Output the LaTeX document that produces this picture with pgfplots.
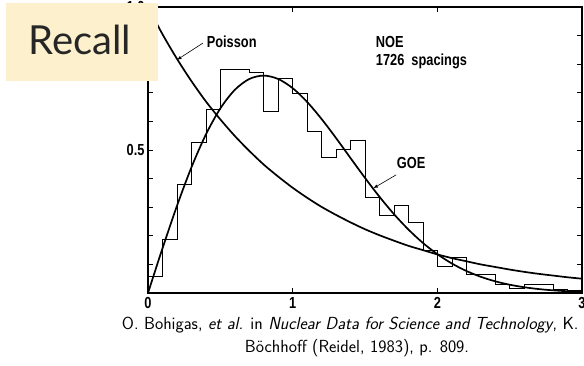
\documentclass[border=0pt]{standalone}
\usepackage{fontspec}
\usepackage{graphicx}
\usepackage{pgfplots}
\pgfplotsset{compat=1.18}
\newfontfamily\chartfont{Liberation Sans}
\newfontfamily\recallfont{Lato}
\definecolor{recallbg}{RGB}{252,241,204}
\newcommand{\lbl}[1]{\scalebox{0.8}[1]{\chartfont\bfseries #1}}
\begin{document}
\begin{tikzpicture}[x=1pt,y=1pt]
\useasboundingbox (0,0) rectangle (584,365);
\begin{axis}[
  at={(148pt,72pt)}, anchor=south west,
  scale only axis, width=434pt, height=286pt,
  xmin=0, xmax=3, ymin=0, ymax=1,
  xtick={0,1,2,3}, xticklabels={\lbl{0},\lbl{1},\lbl{2},\lbl{3}},
  ytick={0.5,1}, yticklabels={\lbl{0.5},\lbl{1.0}},
  minor ytick={0.1,0.2,0.3,0.4,0.6,0.7,0.8,0.9},
  tick align=inside, major tick length=5pt, minor tick length=5pt,
  tick style={black, line width=0.8pt},
  axis line style={line width=1.2pt},
  ticklabel style={font=\fontsize{16}{16}\selectfont},
  xticklabel shift=1pt,
  clip=false,
]
% histogram (bin width 0.1)
\addplot[const plot, black, line width=0.6pt] coordinates {
(0,0) (0,0.057) (0.1,0.188) (0.2,0.379) (0.3,0.528) (0.4,0.642)
(0.5,0.782) (0.6,0.782) (0.7,0.770) (0.8,0.634) (0.9,0.751)
(1.0,0.700) (1.1,0.564) (1.2,0.473) (1.3,0.504) (1.4,0.533)
(1.5,0.335) (1.6,0.273) (1.7,0.308) (1.8,0.246) (1.9,0.151)
(2.0,0.092) (2.1,0.124) (2.2,0.064) (2.3,0.064) (2.4,0.032)
(2.5,0.016) (2.6,0.030) (2.7,0.030) (2.8,0.012) (2.9,0.008) (3.0,0.008)
};
% Poisson
\addplot[smooth, black, line width=1.7pt] coordinates {
(0,1.000) (0.1,0.905) (0.2,0.819) (0.3,0.741) (0.4,0.670) (0.5,0.607)
(0.6,0.549) (0.7,0.497) (0.8,0.449) (0.9,0.407) (1.0,0.368) (1.1,0.333)
(1.2,0.301) (1.3,0.273) (1.4,0.247) (1.5,0.223) (1.6,0.202) (1.7,0.183)
(1.8,0.165) (1.9,0.150) (2.0,0.135) (2.1,0.122) (2.2,0.111) (2.3,0.100)
(2.4,0.091) (2.5,0.082) (2.6,0.074) (2.7,0.067) (2.8,0.061) (2.9,0.055) (3.0,0.050)
};
% GOE
\addplot[smooth, black, line width=1.7pt] coordinates {
(0,0) (0.05,0.0784) (0.1,0.1559) (0.2,0.3044) (0.3,0.4391) (0.4,0.5541) (0.5,0.6454)
(0.6,0.7103) (0.7,0.7483) (0.8,0.7602) (0.9,0.7483) (1.0,0.7162) (1.1,0.6680)
(1.2,0.6083) (1.3,0.5416) (1.4,0.4717) (1.5,0.4025) (1.6,0.3365) (1.7,0.2759)
(1.8,0.2220) (1.9,0.1752) (2.0,0.1358) (2.1,0.1033) (2.2,0.0772) (2.3,0.0567)
(2.4,0.0409) (2.5,0.0290) (2.6,0.0202) (2.7,0.0138) (2.8,0.0093) (2.9,0.0062) (3.0,0.0040)
};
\node[anchor=west, inner sep=0pt, font=\fontsize{16}{16}\selectfont] at (axis cs:0.405,0.878) {\lbl{Poisson}};
\draw[-latex, line width=0.6pt] (axis cs:0.38,0.874) -- (axis cs:0.2,0.815);
\node[anchor=west, inner sep=0pt, font=\fontsize{16}{16}\selectfont] at (axis cs:1.574,0.878) {\lbl{NOE}};
\node[anchor=west, inner sep=0pt, font=\fontsize{16}{16}\selectfont] at (axis cs:1.574,0.811) {\lbl{1726 \ spacings}};
\node[anchor=west, inner sep=0pt, font=\fontsize{16}{16}\selectfont] at (axis cs:1.719,0.453) {\lbl{GOE}};
\draw[-latex, line width=0.6pt] (axis cs:1.715,0.413) -- (axis cs:1.557,0.366);
\end{axis}
\fill[recallbg] (6,284) rectangle (158,362);
\node[anchor=base west, inner sep=0pt, text=black!85, font=\recallfont\fontsize{40}{40}\selectfont] at (28,310) {Recall};
\node[anchor=base west, inner sep=0pt, font=\sffamily\fontsize{17.5}{20}\selectfont] at (121.7,35.7) {O. Bohigas, \textit{et al.} in \textit{Nuclear Data for Science and Technology}, K. H.};
\node[anchor=base, inner sep=0pt, font=\sffamily\fontsize{17.5}{20}\selectfont] at (357,12.3) {Böchhoff (Reidel, 1983), p. 809.};
\end{tikzpicture}
\end{document}
